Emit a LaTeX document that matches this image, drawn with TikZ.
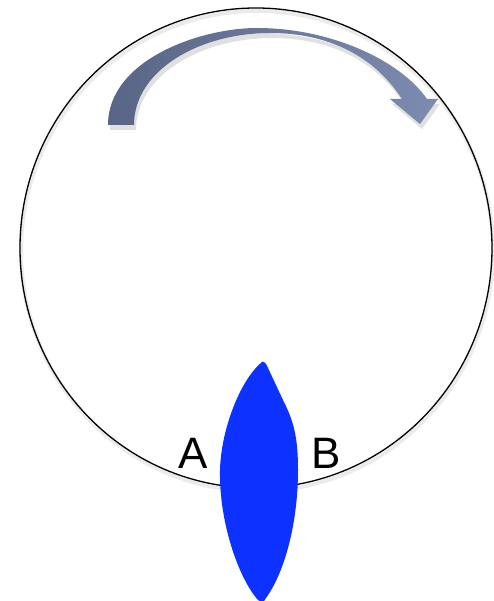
\documentclass[tikz,border=0pt]{standalone}
\usepackage{fontspec}
\setmainfont{Liberation Sans}
\begin{document}
\begin{tikzpicture}[x=1pt,y=-1pt,
  ring/.style={draw=black,line width=1.3pt},
  lens/.style={fill=lensblue,draw=none},
  bigarrow/.style={left color=arrowdark,right color=arrowlight,draw=none},
  shade/.style={fill=black,opacity=0.12,draw=none},
  lbl/.style={font=\fontsize{44}{44}\selectfont,anchor=base,inner sep=0pt}]
\definecolor{lensblue}{RGB}{13,50,255}
\definecolor{arrowdark}{RGB}{88,101,134}
\definecolor{arrowlight}{RGB}{125,139,176}
\useasboundingbox (0,0) rectangle (493,601);
\fill[white] (0,0) rectangle (493,601);
% circle shadow
\draw[draw=black,opacity=0.08,line width=4pt] (257,251) ellipse [x radius=236, y radius=240];
\draw[ring] (256,248) ellipse [x radius=236, y radius=240];
% arrow shadow
\path[shade] (110,130) .. controls (110,65) and (202,33) .. (259,33) .. controls (332,33) and (402,65) .. (429,104) -- (440,104) -- (422,129) -- (392,104) -- (404,104) .. controls (372,55) and (322,38) .. (272,38) .. controls (202,38) and (136,75) .. (136,130) -- cycle;
% curved arrow
\path[bigarrow] (108,125) .. controls (108,60) and (200,28) .. (257,28) .. controls (330,28) and (400,60) .. (427,99) -- (438,99) -- (420,124) -- (390,99) -- (402,99) .. controls (370,50) and (320,33) .. (270,33) .. controls (200,33) and (134,70) .. (134,125) -- cycle;
% lens
\path[lens] (262,362) .. controls (240,380) and (221,430) .. (220,470) .. controls (219,525) and (240,580) .. (258,600) .. controls (262,603) and (264,602) .. (266,598) .. controls (286,570) and (298,520) .. (298,470) .. controls (298,435) and (293,420) .. (283,400) -- (268,368) .. controls (266,363) and (264,361) .. (262,362) -- cycle;
\node[lbl] (A) at (193,468) {A};
\node[lbl] (B) at (326,468) {B};
\end{tikzpicture}
\end{document}
